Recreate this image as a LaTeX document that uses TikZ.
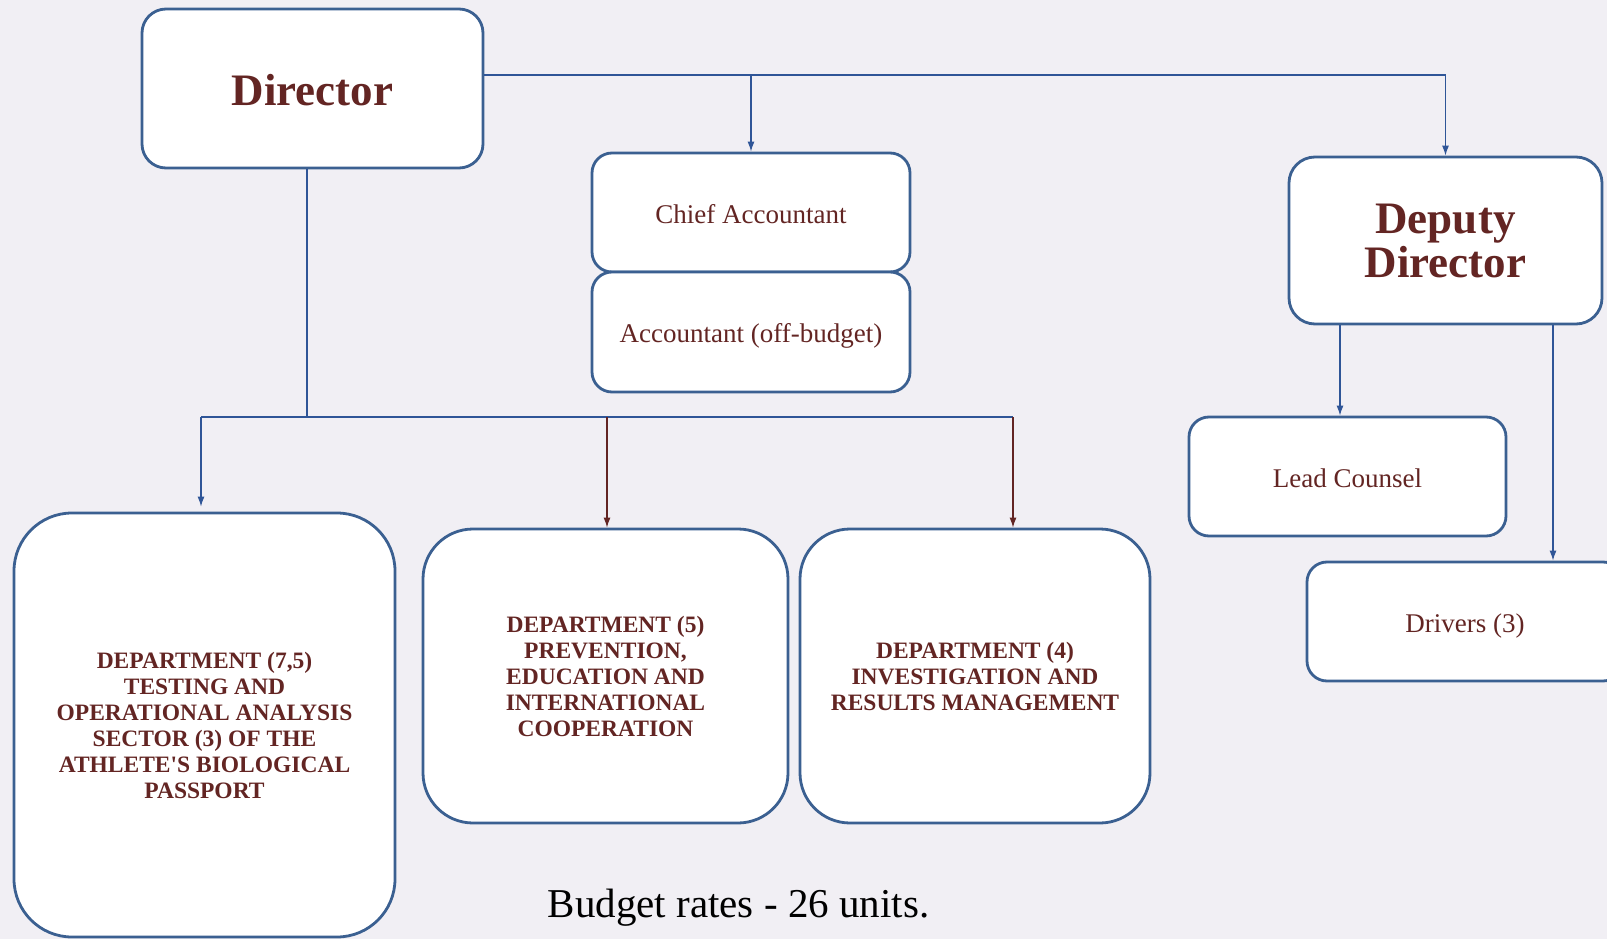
\documentclass[tikz,border=0pt]{standalone}
\usepackage{fontspec}
\setmainfont{Liberation Serif}
\usetikzlibrary{arrows.meta}
\definecolor{boxblue}{HTML}{3B6091}
\definecolor{lineblue}{HTML}{2F5597}
\definecolor{txtred}{HTML}{632523}
\definecolor{bgcol}{HTML}{F1EFF4}

\begin{document}
\begin{tikzpicture}[x=1pt,y=-1pt,
    unit/.style={draw=boxblue,line width=2.8pt,fill=white,text=txtred,align=center,inner sep=0pt},
    link/.style={draw=lineblue,line width=1.2pt},
    redlink/.style={draw=txtred,line width=1.2pt},
    tip/.style={-{Latex[length=10pt,width=7pt]}},
    headtxt/.style={font=\fontsize{45}{44}\selectfont\bfseries},
    plaintxt/.style={font=\fontsize{27}{30}\selectfont,text height=21pt,text depth=0pt},
    depttxt/.style={font=\fontsize{23.5}{26}\selectfont\bfseries}]
    \fill[bgcol] (0,0) rectangle (1607,939);
    \useasboundingbox (0,0) rectangle (1607,939);

    \node[unit,headtxt,text height=34pt,text depth=0pt,rounded corners=24pt,minimum width=341pt,minimum height=159pt] (dir) at (312.5,88.5) {Director};
    \node[unit,plaintxt,rounded corners=20pt,minimum width=318pt,minimum height=119pt] (chief) at (751,212.5) {Chief Accountant};
    \node[unit,plaintxt,rounded corners=20pt,minimum width=318pt,minimum height=120pt] (acct) at (751,332) {Accountant (off-budget)};
    \node[unit,headtxt,rounded corners=26pt,minimum width=313pt,minimum height=167pt] (dep) at (1445.5,240.5) {Deputy\\Director};
    \node[unit,plaintxt,rounded corners=20pt,minimum width=317pt,minimum height=119pt] (lead) at (1347.5,476.5) {Lead Counsel};
    \node[unit,plaintxt,rounded corners=20pt,minimum width=316pt,minimum height=119pt] (drv) at (1465,621.5) {Drivers (3)};
    \node[unit,depttxt,rounded corners=58pt,minimum width=381pt,minimum height=424pt] (d1) at (204.5,725) {DEPARTMENT (7,5)\\TESTING AND\\OPERATIONAL ANALYSIS\\SECTOR (3) OF THE\\ATHLETE\textquotesingle S BIOLOGICAL\\PASSPORT};
    \node[unit,depttxt,rounded corners=50pt,minimum width=365pt,minimum height=294pt] (d2) at (605.5,676) {DEPARTMENT (5)\\PREVENTION,\\EDUCATION AND\\INTERNATIONAL\\COOPERATION};
    \node[unit,depttxt,rounded corners=50pt,minimum width=350pt,minimum height=294pt] (d3) at (975,676) {DEPARTMENT (4)\\INVESTIGATION AND\\RESULTS MANAGEMENT};
    \node[anchor=base,font=\fontsize{41}{46}\selectfont] (budget) at (738.5,917) {Budget rates - 26 units.};

    \coordinate (topbus) at (1445.5,75);
    \draw[link,tip] (dir.east |- topbus) -- (topbus) -- (dep.north);
    \draw[link,tip] (chief.north |- topbus) -- (chief.north);

    \coordinate (bus) at (307,417);
    \coordinate (busl) at (201,417);
    \coordinate (busm) at (607,417);
    \coordinate (busr) at (1013,417);
    \draw[link] (bus |- dir.south) -- (bus);
    \draw[link] (busl) -- (busr);
    \draw[link,tip,shorten >=5pt] (busl) -- (busl |- d1.north);
    \draw[redlink,tip] (busm) -- (busm |- d2.north);
    \draw[redlink,tip] (busr) -- (busr |- d3.north);

    \draw[link,tip] ([xshift=-105.5pt]dep.south) -- ([xshift=-105.5pt]dep.south |- lead.north);
    \draw[link,tip] ([xshift=107.5pt]dep.south) -- ([xshift=107.5pt]dep.south |- drv.north);
\end{tikzpicture}
\end{document}
